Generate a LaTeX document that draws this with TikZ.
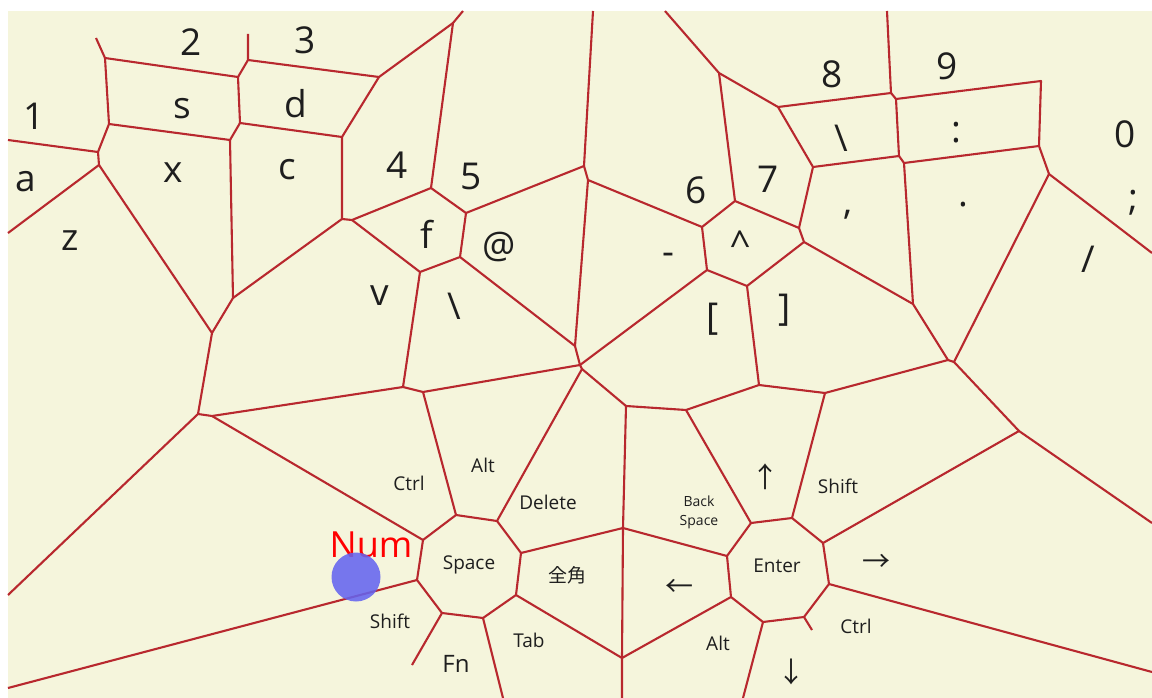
\documentclass[tikz,border=0pt]{standalone}
\usepackage{fontspec}
\setmainfont{Open Sans}
\newfontfamily\cjkfont{Noto Sans CJK JP}
\usepackage{xcolor}
\usepackage{tikz}
\definecolor{paper}{HTML}{F5F5DC}
\definecolor{cellred}{HTML}{B8282E}
\definecolor{keyink}{HTML}{1E1E1E}
\definecolor{numred}{HTML}{FF0000}
\definecolor{numblue}{HTML}{6464F0}
\tikzset{
  celledge/.style={
    draw=cellred, line width=2.1pt, line join=round
  },
  glyph/.style={
    font=\fontsize{37}{37}\selectfont, text=keyink, inner sep=0pt
  },
  keyword/.style={
    font=\fontsize{#1}{#1}\selectfont, text=keyink,
    inner sep=0pt, anchor=base
  },
  keyword/.default=19,
  arrowkey/.style={
    font=\cjkfont\fontsize{28}{28}\selectfont, text=keyink, inner sep=0pt
  },
  thumbdot/.style={
    circle, fill=numblue, fill opacity=0.87, minimum size=49pt, inner sep=0pt
  },
}
\begin{document}
\begin{tikzpicture}[x=1pt, y=-1pt]
  \fill[white] (0,0) rectangle (1152,698);
  \fill[paper] (8,11) rectangle (1152,698);
  \useasboundingbox (0,0) rectangle (1152,698);

  % cell corners, left half
  \coordinate (L1) at (8,140);   \coordinate (L2) at (8,233);
  \coordinate (L3) at (8,595);   \coordinate (L4) at (8,688);
  \coordinate (a1) at (98,152);  \coordinate (a2) at (99,165);
  \coordinate (s1) at (109,124); \coordinate (s2) at (240,123);
  \coordinate (t1) at (105,58);  \coordinate (t1e) at (96,38);
  \coordinate (t2) at (238,77);  \coordinate (t3) at (248,60);
  \coordinate (t3e) at (248,34); \coordinate (t4) at (379,77);
  \coordinate (t5) at (453,23);  \coordinate (T5) at (463,11);
  \coordinate (x1) at (230,140); \coordinate (x2) at (233,298);
  \coordinate (c1) at (342,137); \coordinate (c2) at (342,219);
  \coordinate (c3) at (352,220); \coordinate (z1) at (212,333);
  \coordinate (f1) at (431,188); \coordinate (f2) at (466,213);
  \coordinate (f3) at (460,257); \coordinate (f4) at (420,272);
  \coordinate (v1) at (403,387); \coordinate (k1) at (198,414);
  \coordinate (k2) at (212,416);
  % middle
  \coordinate (m1) at (584,166); \coordinate (T6) at (593,11);
  \coordinate (m2) at (588,180); \coordinate (m3) at (575,346);
  \coordinate (m4) at (580,365); \coordinate (m5) at (582,369);
  \coordinate (d1) at (423,392); \coordinate (d2) at (456,515);
  \coordinate (d3) at (497,521); \coordinate (d4) at (423,540);
  \coordinate (d5) at (417,580); \coordinate (d6) at (442,613);
  \coordinate (d6e) at (412,665); \coordinate (d7) at (483,618);
  \coordinate (B2) at (503,698); \coordinate (d8) at (516,595);
  \coordinate (d9) at (521,553); \coordinate (e1) at (623,528);
  \coordinate (e2) at (622,658); \coordinate (B3) at (622,698);
  \coordinate (e3) at (731,597); \coordinate (e4) at (626,406);
  \coordinate (e5) at (686,410); \coordinate (e6) at (751,523);
  \coordinate (e7) at (727,556);
  % right half
  \coordinate (h1) at (702,227); \coordinate (h2) at (735,201);
  \coordinate (h3) at (719,73);  \coordinate (T7) at (665,11);
  \coordinate (h4) at (707,270); \coordinate (h5) at (747,286);
  \coordinate (r1) at (778,107); \coordinate (r2) at (891,93);
  \coordinate (T8) at (887,11);  \coordinate (r3) at (896,99);
  \coordinate (r4) at (1041,81); \coordinate (r5) at (1039,146);
  \coordinate (r6) at (899,156); \coordinate (r7) at (904,163);
  \coordinate (r8) at (813,167); \coordinate (r9) at (1049,174);
  \coordinate (R1) at (1152,253); \coordinate (r10) at (954,362);
  \coordinate (r11) at (948,360); \coordinate (r12) at (913,304);
  \coordinate (r13) at (804,242); \coordinate (r14) at (799,228);
  \coordinate (b1) at (825,393); \coordinate (b2) at (759,385);
  \coordinate (b3) at (1019,431); \coordinate (R2) at (1152,523);
  \coordinate (b4) at (823,543); \coordinate (b5) at (792,518);
  \coordinate (b6) at (829,584); \coordinate (R3) at (1152,672);
  \coordinate (b7) at (804,617); \coordinate (b7e) at (812,630);
  \coordinate (b8) at (763,622); \coordinate (B1) at (743,698);

  \draw[celledge] (L1) -- (a1) -- (s1) -- (t1) -- (t1e);
  \draw[celledge] (a1) -- (a2) -- (L2);
  \draw[celledge] (a2) -- (z1) -- (k1) -- (L3);
  \draw[celledge] (t1) -- (t2) -- (t3) -- (t3e);
  \draw[celledge] (t3) -- (t4) -- (t5) -- (T5);
  \draw[celledge] (t5) -- (f1) -- (f2) -- (m1) -- (T6);
  \draw[celledge] (t2) -- (s2) -- (c1) -- (t4);
  \draw[celledge] (s2) -- (x1) -- (s1);
  \draw[celledge] (x1) -- (x2) -- (z1);
  \draw[celledge] (c1) -- (c2) -- (x2);
  \draw[celledge] (c2) -- (c3) -- (f1);
  \draw[celledge] (c3) -- (f4) -- (f3) -- (f2);
  \draw[celledge] (f4) -- (v1) -- (k2) -- (k1);
  \draw[celledge] (k2) -- (d4) -- (d5) -- (L4);
  \draw[celledge] (v1) -- (d1) -- (m4);
  \draw[celledge] (d1) -- (d2) -- (d4);
  \draw[celledge] (d2) -- (d3) -- (m5) -- (m4) -- (m3) -- (f3);
  \draw[celledge] (m3) -- (m2) -- (m1);
  \draw[celledge] (m2) -- (h1) -- (h2) -- (h3) -- (T7);
  \draw[celledge] (h1) -- (h4) -- (m4);
  \draw[celledge] (h4) -- (h5) -- (b2) -- (e5) -- (e4) -- (m5);
  \draw[celledge] (h5) -- (r13) -- (r14) -- (h2);
  \draw[celledge] (r14) -- (r8) -- (r1) -- (h3);
  \draw[celledge] (r1) -- (r2) -- (T8);
  \draw[celledge] (r2) -- (r3) -- (r4) -- (r5) -- (r7) -- (r6) -- (r3);
  \draw[celledge] (r6) -- (r8);
  \draw[celledge] (r5) -- (r9) -- (R1);
  \draw[celledge] (r9) -- (r10) -- (r11) -- (r12) -- (r7);
  \draw[celledge] (r12) -- (r13);
  \draw[celledge] (r10) -- (b3) -- (R2);
  \draw[celledge] (b3) -- (b4) -- (b5) -- (b1) -- (r11);
  \draw[celledge] (b1) -- (b2);
  \draw[celledge] (b5) -- (e6) -- (e5);
  \draw[celledge] (e6) -- (e7) -- (e1) -- (e4);
  \draw[celledge] (e7) -- (e3) -- (b8) -- (B1);
  \draw[celledge] (b8) -- (b7) -- (b7e);
  \draw[celledge] (b7) -- (b6) -- (R3);
  \draw[celledge] (b6) -- (b4);
  \draw[celledge] (e3) -- (e2) -- (B3);
  \draw[celledge] (e2) -- (e1) -- (d9) -- (d3);
  \draw[celledge] (e2) -- (d8) -- (d9);
  \draw[celledge] (d8) -- (d7) -- (B2);
  \draw[celledge] (d7) -- (d6) -- (d6e);
  \draw[celledge] (d6) -- (d5);

  % key labels
  \node[glyph] (key1) at (34,116) {1};
  \node[glyph] (keya) at (26,182) {a};
  \node[glyph] (keyz) at (70,241) {z};
  \node[glyph] (key2) at (191,42) {2};
  \node[glyph] (key3) at (305,40) {3};
  \node[glyph] (keys) at (182,109) {s};
  \node[glyph] (keyd) at (296,104) {d};
  \node[glyph] (keyx) at (173,173) {x};
  \node[glyph] (keyc) at (287,170) {c};
  \node[glyph] (keyv) at (380,296) {v};
  \node[glyph] (key4) at (397,165) {4};
  \node[glyph] (key5) at (471,176) {5};
  \node[glyph] (keyf) at (427,234) {f};
  \node[glyph] (keyat) at (499,247) {@};
  \node[glyph] (keybsl) at (454,306) {\textbackslash};
  \node[glyph] (keyhy) at (668,259) {-};
  \node[glyph] (key6) at (696,190) {6};
  \node[glyph] (key7) at (768,179) {7};
  \node[glyph] (keycar) at (741,244) {\textasciicircum};
  \node[glyph] (keylb) at (713,319) {[};
  \node[glyph] (keyrb) at (785,310) {]};
  \node[glyph] (key8) at (832,74) {8};
  \node[glyph] (key9) at (947,66) {9};
  \node[glyph] (key0) at (1125,134) {0};
  \node[glyph] (keybsr) at (841,138) {\textbackslash};
  \node[glyph] (keycol) at (956,133) {:};
  \node[glyph] (keycom) at (848,215) {,};
  \node[glyph] (keydot) at (963,205) {.};
  \node[glyph] (keysc) at (1133,203) {;};
  \node[glyph] (keysl) at (1088,259) {/};

  \node[keyword] (ctrlL) at (409,490) {Ctrl};
  \node[keyword] (altL) at (483,472) {Alt};
  \node[keyword] (delete) at (548,509) {Delete};
  \node[font=\fontsize{14}{19}\selectfont, text=keyink, inner sep=0pt,
    align=center] (bksp) at (699,512) {Back\\Space};
  \node[keyword] (space) at (469,569) {Space};
  \node[font=\cjkfont\fontsize{19}{19}\selectfont, text=keyink,
    inner sep=0pt] (zenkaku) at (567,575) {全角};
  \node[keyword] (enter) at (777,572) {Enter};
  \node[keyword] (shiftR) at (838,493) {Shift};
  \node[keyword] (shiftL) at (390,628) {Shift};
  \node[keyword=24] (fn) at (456,672) {Fn};
  \node[keyword] (tab) at (529,647) {Tab};
  \node[keyword] (altR) at (718,650) {Alt};
  \node[keyword] (ctrlR) at (856,633) {Ctrl};
  \node[arrowkey] (up) at (765,477) {↑};
  \node[arrowkey] (left) at (679,588) {←};
  \node[arrowkey] (right) at (876,563) {→};
  \node[arrowkey] (down) at (791,672) {↓};

  \node[font=\fontsize{36}{36}\selectfont, text=numred, inner sep=0pt,
    anchor=base] (num) at (371,557) {Num};
  \node[thumbdot] (thumb) at (356,577) {};
\end{tikzpicture}
\end{document}
